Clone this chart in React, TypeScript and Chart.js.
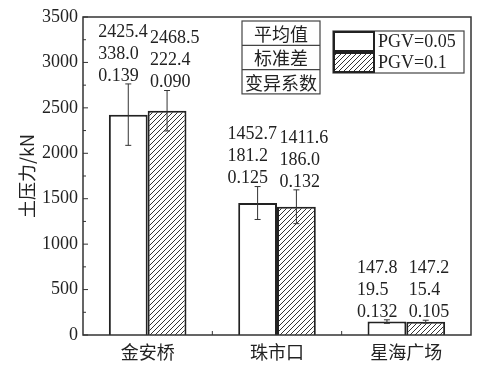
import React, { useEffect, useRef } from "react";
import { Chart, registerables } from "chart.js";
Chart.register(...registerables);

const categories = ["金安桥", "珠市口", "星海广场"];
const seriesNames = ["PGV=0.05", "PGV=0.1"];
const meanA = [2425.4, 1452.7, 147.8];
const sdA = [338.0, 181.2, 19.5];
const cvA = ["0.139", "0.125", "0.132"];
const meanB = [2468.5, 1411.6, 147.2];
const sdB = [222.4, 186.0, 15.4];
const cvB = ["0.090", "0.132", "0.105"];
const yMin = 0;
const yMax = 3500;
const yStep = 500;
const tableRows = ["平均值", "标准差", "变异系数"];
const yTitle = "土压力/kN";

const SERIF = "'Liberation Serif', 'DejaVu Serif', serif";
const CJK = "'Noto Sans CJK SC', 'Noto Sans', sans-serif";
const INK = "#222";

function makeHatch(): CanvasPattern | string {
  const c = document.createElement("canvas");
  c.width = 5;
  c.height = 5;
  const g = c.getContext("2d");
  if (!g) return "#fff";
  g.fillStyle = "#fff";
  g.fillRect(0, 0, 5, 5);
  g.strokeStyle = "#333";
  g.lineWidth = 1;
  g.beginPath();
  g.moveTo(-1, 6);
  g.lineTo(6, -1);
  g.moveTo(-1, 1);
  g.lineTo(1, -1);
  g.moveTo(4, 6);
  g.lineTo(6, 4);
  g.stroke();
  const p = g.createPattern(c, "repeat");
  return p || "#fff";
}

export default function App() {
  const ref = useRef<HTMLCanvasElement | null>(null);
  useEffect(() => {
    document.body.style.margin = "0";
    const canvas = ref.current;
    if (!canvas) return;
    const hatch = makeHatch();
    const means = [meanA, meanB];
    const sds = [sdA, sdB];
    const cvs = [cvA, cvB];
    const labelOffsets = [-30, -17];

    const overlay = {
      id: "overlay",
      afterDatasetsDraw(chart: any) {
        const ctx = chart.ctx;
        const y = chart.scales.y;
        const x = chart.scales.x;
        const a = chart.chartArea;
        ctx.save();
        // error bars and labels
        for (let d = 0; d < 2; d++) {
          const meta = chart.getDatasetMeta(d);
          meta.data.forEach((el: any, i: number) => {
            const m = means[d][i];
            const s = sds[d][i];
            const top = y.getPixelForValue(m + s);
            const bot = y.getPixelForValue(m - s);
            ctx.strokeStyle = "#333";
            ctx.lineWidth = 1;
            ctx.beginPath();
            ctx.moveTo(el.x, top);
            ctx.lineTo(el.x, bot);
            ctx.moveTo(el.x - 3, top);
            ctx.lineTo(el.x + 3, top);
            ctx.moveTo(el.x - 3, bot);
            ctx.lineTo(el.x + 3, bot);
            ctx.stroke();
            ctx.fillStyle = INK;
            ctx.font = "18px " + SERIF;
            ctx.textAlign = "left";
            ctx.textBaseline = "middle";
            const lines = [m.toFixed(1), s.toFixed(1), cvs[d][i]];
            const lx = el.x + labelOffsets[d];
            lines.forEach((t, k) => {
              ctx.fillText(t, lx, top - 52 + k * 22);
            });
          });
        }
        // frame
        ctx.strokeStyle = "#333";
        ctx.lineWidth = 1.5;
        ctx.strokeRect(a.left, a.top, a.right - a.left, a.bottom - a.top);
        // y ticks inward
        ctx.lineWidth = 1;
        for (let v = yMin; v <= yMax; v += yStep / 2) {
          const py = y.getPixelForValue(v);
          const len = v % yStep === 0 ? 5 : 3;
          ctx.beginPath();
          ctx.moveTo(a.left, py);
          ctx.lineTo(a.left + len, py);
          ctx.stroke();
        }
        // x boundary ticks
        const n = categories.length;
        for (let i = 1; i < n; i++) {
          const px = (x.getPixelForValue(i - 1) + x.getPixelForValue(i)) / 2;
          ctx.beginPath();
          ctx.moveTo(px, a.bottom);
          ctx.lineTo(px, a.bottom - 4);
          ctx.stroke();
        }
        // annotation table
        const tx = a.left + 159;
        const ty = a.top + 4;
        const tw = 78;
        const rh = 24.3;
        ctx.strokeStyle = "#444";
        ctx.lineWidth = 1.2;
        ctx.strokeRect(tx, ty, tw, rh * 3);
        for (let k = 1; k < 3; k++) {
          ctx.beginPath();
          ctx.moveTo(tx, ty + rh * k);
          ctx.lineTo(tx + tw, ty + rh * k);
          ctx.stroke();
        }
        ctx.fillStyle = INK;
        ctx.font = "18px " + CJK;
        ctx.textAlign = "center";
        ctx.textBaseline = "middle";
        tableRows.forEach((t, k) => {
          ctx.fillText(t, tx + tw / 2, ty + rh * k + rh / 2 + 1);
        });
        // legend
        const gx = a.left + 250;
        const gy = a.top + 14;
        const gw = 131;
        const gh = 42;
        ctx.strokeStyle = "#444";
        ctx.lineWidth = 1.2;
        ctx.strokeRect(gx, gy, gw, gh);
        const fills: any[] = ["#fff", hatch];
        for (let k = 0; k < 2; k++) {
          const sy = gy + k * 21 + 1;
          ctx.fillStyle = fills[k];
          ctx.fillRect(gx + 1, sy, 40, 19);
          ctx.strokeStyle = "#222";
          ctx.lineWidth = 2;
          ctx.strokeRect(gx + 1, sy, 40, 19);
          ctx.fillStyle = INK;
          ctx.font = "18px " + SERIF;
          ctx.textAlign = "left";
          ctx.textBaseline = "middle";
          ctx.fillText(seriesNames[k], gx + 45, sy + 10);
        }
        ctx.restore();
      },
    };

    const chart = new Chart(canvas, {
      type: "bar",
      data: {
        labels: categories,
        datasets: [
          {
            label: seriesNames[0],
            data: meanA,
            backgroundColor: "#fff",
            borderColor: "#222",
            borderWidth: 2,
            categoryPercentage: 0.6,
            barPercentage: 1.0,
          },
          {
            label: seriesNames[1],
            data: meanB,
            backgroundColor: hatch as any,
            borderColor: "#222",
            borderWidth: 2,
            categoryPercentage: 0.6,
            barPercentage: 1.0,
          },
        ],
      },
      options: {
        animation: false,
        responsive: false,
        layout: { padding: { left: 0, right: 22, top: 17, bottom: 0 } },
        plugins: {
          legend: { display: false },
          tooltip: { enabled: false },
        },
        scales: {
          x: {
            grid: { display: false, drawTicks: false },
            border: { display: false },
            ticks: {
              color: INK,
              font: { family: CJK, size: 18 },
              padding: 6,
            },
            afterFit: (s: any) => {
              s.height = 43;
            },
          },
          y: {
            min: yMin,
            max: yMax,
            grid: { display: false, drawTicks: false },
            border: { display: false },
            ticks: {
              stepSize: yStep,
              color: INK,
              font: { family: SERIF, size: 18 },
              padding: 5,
              callback: (v: any) => String(v),
            },
            title: {
              display: true,
              text: yTitle,
              color: INK,
              font: { family: CJK, size: 18 },
              padding: { top: 16, bottom: 0 },
            },
            afterFit: (s: any) => {
              s.width = 83;
            },
          },
        },
      },
      plugins: [overlay],
    });
    return () => chart.destroy();
  }, []);
  return <canvas ref={ref} width={493} height={378} style={{ display: "block" }} />;
}
